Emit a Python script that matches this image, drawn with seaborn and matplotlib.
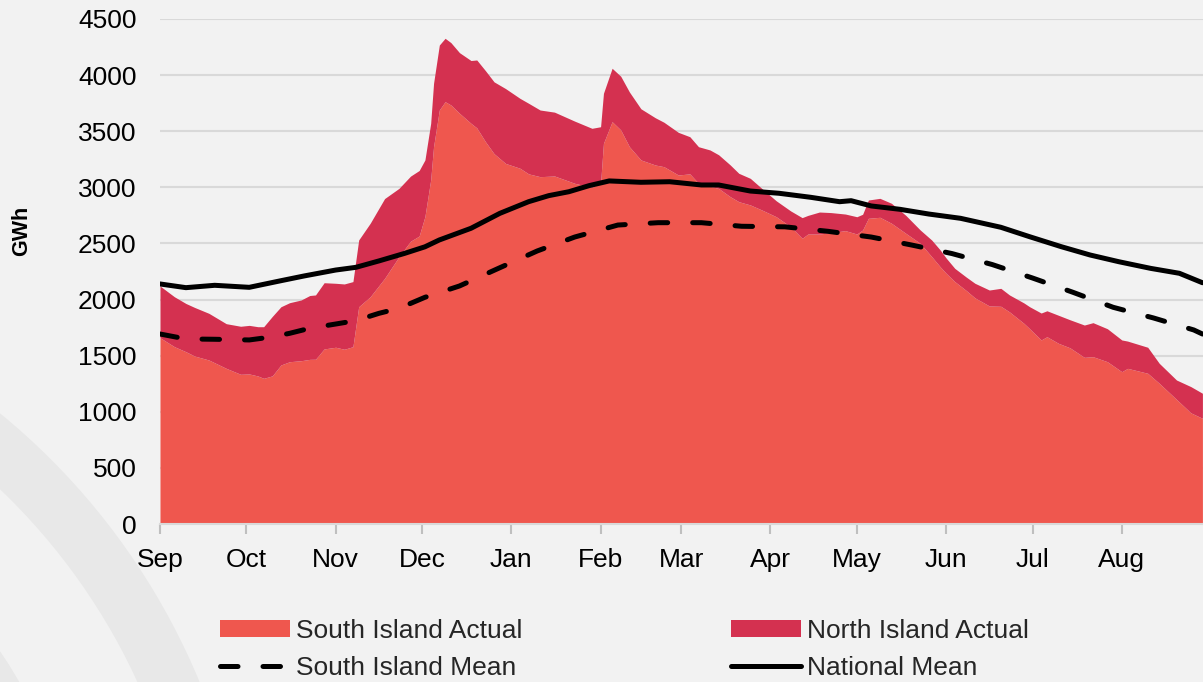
import numpy as np
import matplotlib
matplotlib.use("Agg")
import matplotlib.pyplot as plt
import seaborn as sns
from matplotlib.patches import Patch, Wedge
from matplotlib.lines import Line2D
from matplotlib.transforms import IdentityTransform

# ---------------- data (day 0 = 1 Sep) ----------------
days = [0, 5, 9, 12, 17, 23, 28, 31, 34, 36, 39, 42, 45, 49, 52, 54, 57, 61, 64, 67,
        69, 73, 78, 83, 87, 90, 92, 94, 95, 97, 99, 101, 104, 108, 110, 113, 116, 120, 125, 128,
        132, 137, 144, 150, 153, 154, 157, 160, 163, 167, 172, 175, 180, 184, 187, 191, 194, 198, 201, 205,
        209, 214, 219, 223, 225, 229, 233, 238, 242, 244, 246, 250, 254, 259, 264, 268, 271, 273, 276, 280,
        283, 288, 292, 295, 300, 302, 306, 308, 312, 316, 321, 324, 329, 334, 336, 343, 347, 353, 358, 362]

south_actual = [1660, 1580, 1535, 1497, 1461, 1387, 1334, 1337, 1319, 1298, 1320, 1417, 1446, 1455, 1467, 1468, 1560, 1575, 1557, 1580,
                1936, 2025, 2189, 2382, 2520, 2566, 2740, 3065, 3362, 3689, 3763, 3734, 3660, 3570, 3530, 3407, 3300, 3213, 3170, 3120,
                3095, 3101, 3036, 3000, 3036, 3392, 3585, 3511, 3362, 3244, 3199, 3184, 3110, 3120, 3036, 3010, 2990, 2917, 2872, 2843,
                2798, 2738, 2649, 2546, 2584, 2584, 2596, 2614, 2584, 2620, 2724, 2733, 2680, 2590, 2501, 2382, 2290, 2234, 2160, 2080,
                2015, 1943, 1940, 1890, 1788, 1740, 1640, 1669, 1610, 1570, 1485, 1491, 1446, 1357, 1387, 1343, 1254, 1110, 990, 942]

north_actual = [461, 445, 430, 433, 416, 398, 428, 433, 439, 460, 530, 519, 526, 541, 569, 573, 590, 570, 582, 580,
                595, 655, 711, 609, 580, 584, 504, 505, 565, 579, 565, 556, 540, 560, 605, 633, 640, 667, 623, 629,
                594, 569, 554, 526, 504, 446, 476, 479, 488, 456, 421, 396, 380, 331, 326, 323, 300, 283, 253, 237,
                192, 142, 141, 184, 166, 196, 179, 148, 154, 140, 163, 169, 178, 160, 119, 148, 150, 136, 118, 120,
                130, 142, 160, 151, 182, 196, 240, 231, 250, 250, 288, 303, 294, 283, 243, 232, 178, 173, 234, 223]

national_days = [0, 9, 19, 31, 42, 50, 61, 68, 76, 85, 92, 97, 108, 118, 128, 135, 142, 149, 156, 167,
                 177, 188, 194, 205, 215, 226, 236, 240, 247, 257, 267, 278, 292, 302, 313, 323, 333, 344, 354, 362]
national_mean = [2139, 2106, 2127, 2109, 2168, 2210, 2263, 2287, 2344, 2412, 2470, 2531, 2635, 2768, 2872, 2926, 2961, 3015, 3057, 3045,
                 3050, 3021, 3021, 2967, 2947, 2911, 2872, 2881, 2834, 2804, 2762, 2724, 2644, 2560, 2471, 2397, 2337, 2278, 2234, 2150]

south_mean_days = [0, 9, 19, 31, 38, 45, 52, 61, 68, 76, 83, 92, 104, 117, 131, 144, 159, 173, 188, 202,
                   217, 232, 247, 261, 275, 289, 303, 317, 331, 345, 359, 362]
south_mean = [1693, 1649, 1646, 1640, 1664, 1699, 1744, 1782, 1812, 1877, 1922, 2020, 2121, 2272, 2433, 2557, 2664, 2685, 2685, 2653,
              2648, 2608, 2557, 2486, 2410, 2312, 2192, 2065, 1931, 1836, 1729, 1693]

month_days = [0, 30, 61, 91, 122, 153, 181, 212, 242, 273, 303, 334]
month_labels = ["Sep", "Oct", "Nov", "Dec", "Jan", "Feb", "Mar", "Apr", "May", "Jun", "Jul", "Aug"]
y_ticks = [0, 500, 1000, 1500, 2000, 2500, 3000, 3500, 4000, 4500]

# ---------------- style ----------------
sns.set_theme(style="white")
plt.rcParams["font.family"] = ["Liberation Sans", "DejaVu Sans"]

BG = "#F2F2F2"
SOUTH_C = "#EF574E"
NORTH_C = "#D43150"
GRID_C = "#D9D9D9"

W, H = 1203, 682
fig = plt.figure(figsize=(W / 100, H / 100), dpi=100, facecolor=BG)
ax = fig.add_axes([160 / W, 158 / H, 1 - 160 / W, 505 / H])
ax.set_facecolor(BG)

# faint watermark arcs (bottom-left)
for r, w in [(687, 57), (525, 60)]:
    fig.add_artist(Wedge((-435, -263), r, 0, 90, width=w, transform=IdentityTransform(),
                         facecolor="#E8E8E8", edgecolor="none", zorder=-5))

# stacked areas
ax.stackplot(days, south_actual, north_actual, colors=[SOUTH_C, NORTH_C], linewidth=0, zorder=2)

# mean lines
sns.lineplot(x=national_days, y=national_mean, ax=ax, color="black", lw=3.6,
             solid_capstyle="round", solid_joinstyle="round", zorder=5)
sns.lineplot(x=south_mean_days, y=south_mean, ax=ax, color="black", lw=3.6,
             linestyle=(0, (3.5, 5)), dash_capstyle="round", zorder=5)

ax.set_xlim(0, 362.2)
ax.set_ylim(0, 4500)
ax.set_xticks(month_days, month_labels)
ax.set_yticks(y_ticks, [str(v) for v in y_ticks])
ax.set_xlabel("")
ax.set_ylabel("")
ax.tick_params(axis="x", bottom=True, length=7, width=1.5, color="#BFBFBF", labelsize=19, pad=10, labelcolor="black")
ax.tick_params(axis="y", left=False, length=0, labelsize=19, pad=17, labelcolor="black")
ax.grid(axis="y", color=GRID_C, lw=1.5)
ax.grid(axis="x", visible=False)
ax.set_axisbelow(True)
for s in ["top", "right", "left"]:
    ax.spines[s].set_visible(False)
ax.spines["bottom"].set_color(GRID_C)
ax.spines["bottom"].set_linewidth(1.5)
ax.spines["bottom"].set_zorder(6)

fig.text(22 / W, 1 - 231 / H, "GWh", rotation=90, fontsize=15.5, fontweight="bold",
         ha="center", va="center", color="black")

handles = [
    Patch(facecolor=SOUTH_C, edgecolor="none"),
    Line2D([0], [0], color="black", lw=3.6, linestyle=(0, (3.5, 5)), dash_capstyle="round"),
    Patch(facecolor=NORTH_C, edgecolor="none"),
    Line2D([0], [0], color="black", lw=3.6, solid_capstyle="round"),
]
labels = ["South Island Actual", "South Island Mean", "North Island Actual", "National Mean"]
fig.legend(handles, labels, loc="center", bbox_to_anchor=(0.519, 0.048), ncol=2, frameon=False,
           fontsize=19, handlelength=2.65, handleheight=0.65, handletextpad=0.23,
           columnspacing=7.9, labelspacing=0.48, borderaxespad=0, borderpad=0)

fig.savefig("out.png", dpi=100, facecolor=BG)
